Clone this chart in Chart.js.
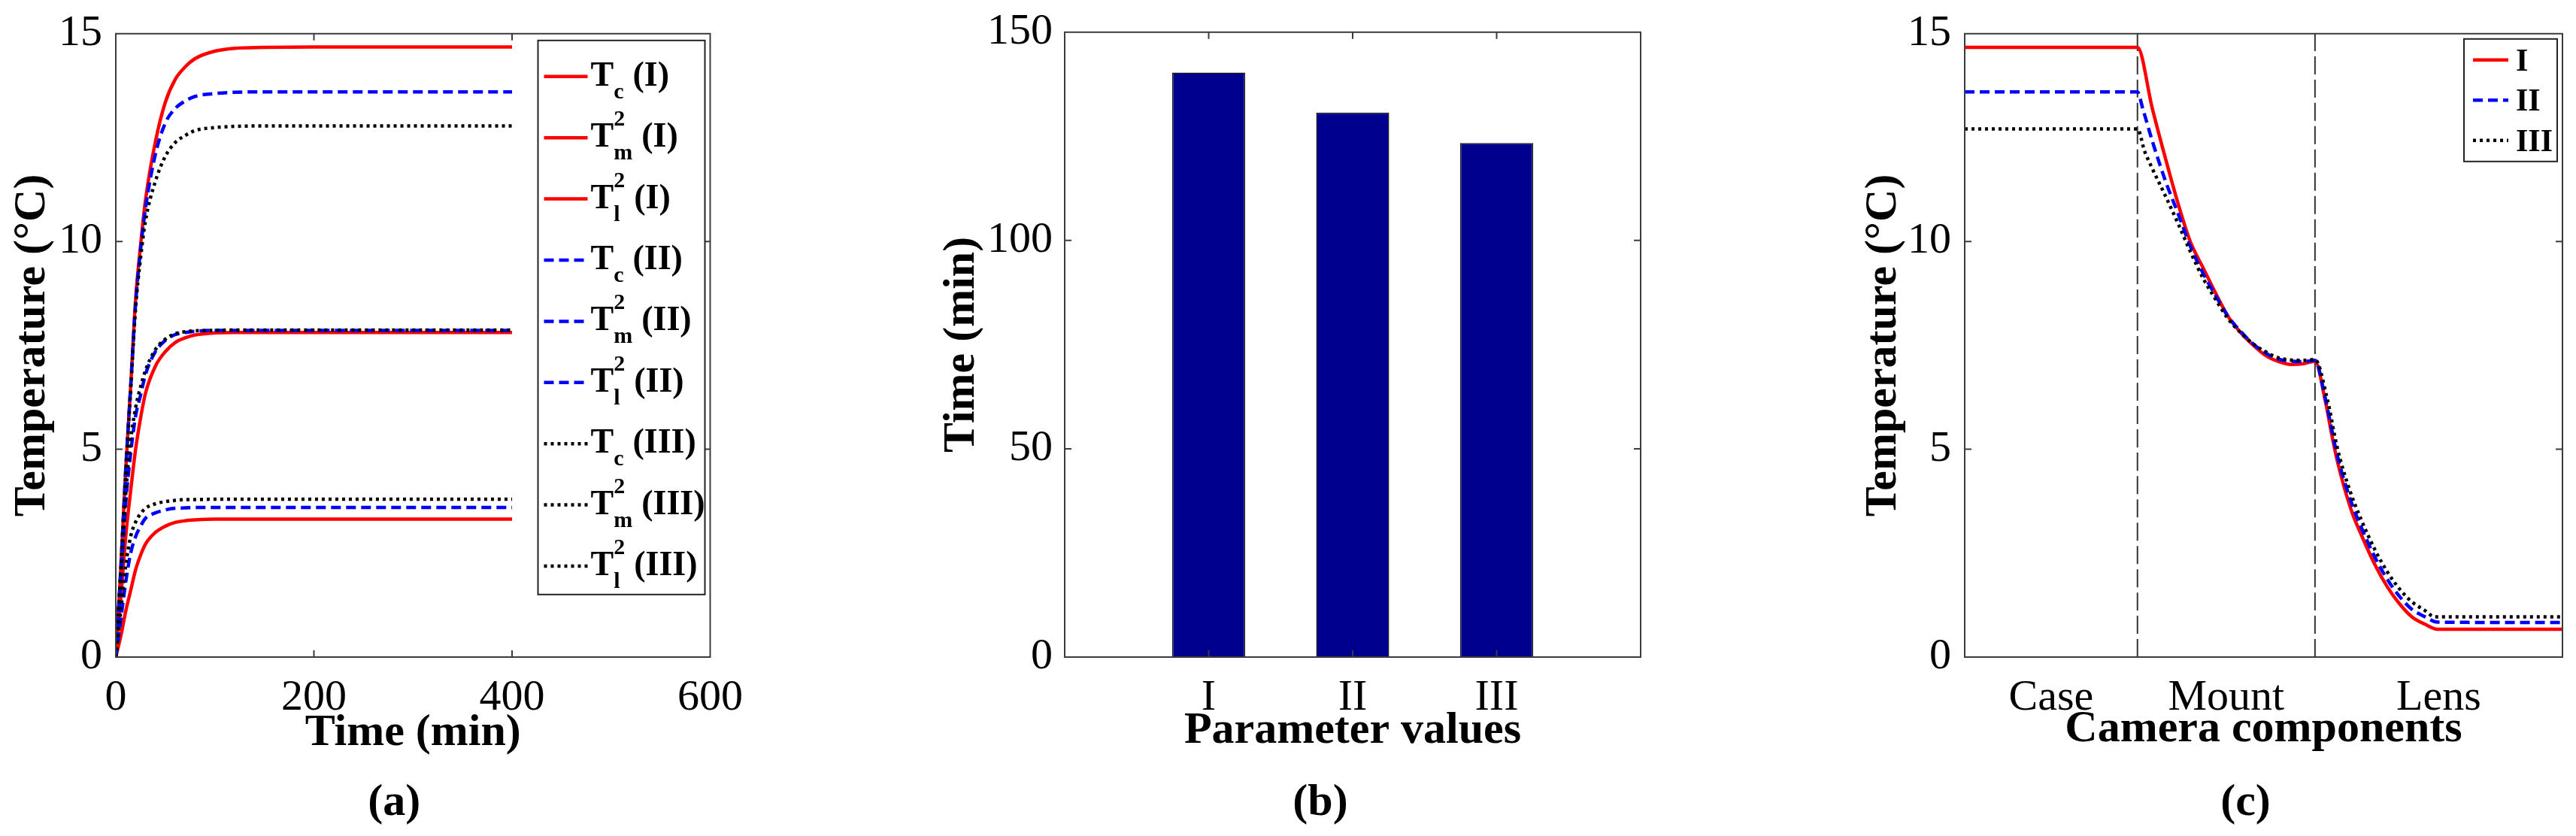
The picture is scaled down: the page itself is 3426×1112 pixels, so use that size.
<!DOCTYPE html>
<html>
<head>
<meta charset="utf-8">
<script src="https://cdn.jsdelivr.net/npm/chart.js@4.4.0/dist/chart.umd.min.js"></script>
<style>
  html, body { margin: 0; padding: 0; background: #fff; }
  body { width: 3426px; height: 1112px; position: relative; overflow: hidden; }
  canvas { position: absolute; top: 0; }
</style>
</head>
<body>
<canvas id="chartA" width="1000" height="1112" style="left:0px"></canvas>
<canvas id="chartB" width="1100" height="1112" style="left:1150px"></canvas>
<canvas id="chartC" width="1026" height="1112" style="left:2400px"></canvas>
<script>
// ---- (a) temperature vs time ----
const timeMin = [0, 5, 10, 15, 20, 25, 30, 40, 50, 60, 70, 80, 100, 120, 150, 200, 300, 400];
const tcI   = [0, 2.1, 4.5, 6.5, 8.6, 9.9, 11.0, 12.4, 13.35, 13.9, 14.2, 14.4, 14.58, 14.65, 14.67, 14.68, 14.68, 14.68];
const tmI   = [0, 1.4, 2.9, 4.0, 5.0, 5.75, 6.35, 7.0, 7.35, 7.57, 7.68, 7.75, 7.8, 7.81, 7.81, 7.81, 7.81, 7.81];
const tlI   = [0, 0.5, 1.1, 1.6, 2.1, 2.45, 2.72, 3.0, 3.15, 3.24, 3.28, 3.3, 3.32, 3.32, 3.32, 3.32, 3.32, 3.32];
const tcII  = [0, 2.1, 4.5, 6.5, 8.5, 9.8, 10.8, 12.1, 12.85, 13.2, 13.38, 13.49, 13.56, 13.59, 13.6, 13.6, 13.6, 13.6];
const tmII  = [0, 1.8, 3.7, 4.9, 5.8, 6.3, 6.8, 7.35, 7.62, 7.76, 7.81, 7.84, 7.86, 7.86, 7.86, 7.86, 7.86, 7.86];
const tlII  = [0, 0.9, 1.8, 2.5, 2.9, 3.15, 3.34, 3.47, 3.54, 3.58, 3.59, 3.6, 3.6, 3.6, 3.6, 3.6, 3.6, 3.6];
const tcIII = [0, 2.1, 4.4, 6.4, 8.4, 9.6, 10.5, 11.45, 12.05, 12.38, 12.55, 12.67, 12.74, 12.77, 12.78, 12.78, 12.78, 12.78];
const tmIII = [0, 1.9, 3.9, 5.2, 6.0, 6.5, 6.9, 7.4, 7.65, 7.78, 7.83, 7.85, 7.86, 7.87, 7.87, 7.87, 7.87, 7.87];
const tlIII = [0, 1.1, 2.2, 2.9, 3.25, 3.45, 3.58, 3.69, 3.74, 3.77, 3.79, 3.79, 3.8, 3.8, 3.8, 3.8, 3.8, 3.8];
const tempSymbols = ['c', 'm', 'l'];
const tempSupers = ['', '2', '2'];

// ---- (b) time per parameter set ----
const paramSets = ['I', 'II', 'III'];
const settleTime = [140.3, 130.7, 123.4];

// ---- (c) temperature along camera components ----
const components = ['Case', 'Mount', 'Lens'];
const componentBounds = [0, 28.9, 58.6, 100];
const posI   = [0, 28.9, 31.4, 33.6, 35.7, 37.7, 39.9, 42.0, 44.0, 46.2, 48.3, 50.3, 52.5, 54.6, 56.7, 58.6,
                60.3, 61.5, 62.3, 63.5, 64.8, 66.5, 68.6, 70.7, 72.8, 74.8, 77.0, 79.1, 100];
const tempI  = [14.67, 14.67, 13.19, 11.99, 10.91, 10.01, 9.36, 8.75, 8.21, 7.8, 7.5, 7.26, 7.11, 7.04, 7.06, 7.12,
                6.18, 5.28, 4.74, 4.08, 3.48, 2.89, 2.23, 1.69, 1.27, 0.97, 0.79, 0.67, 0.67];
const posII  = [0, 28.9, 29.8, 31.4, 33.6, 35.7, 37.7, 39.9, 42.0, 44.0, 46.2, 48.3, 50.3, 52.5, 56.7, 58.6,
                60.3, 62.3, 64.4, 66.5, 68.6, 70.7, 72.8, 74.8, 77.0, 79.1, 100];
const tempII = [13.6, 13.6, 13.19, 12.41, 11.45, 10.67, 9.9, 9.23, 8.69, 8.21, 7.83, 7.53, 7.32, 7.17, 7.11, 7.14,
                6.24, 4.87, 3.84, 3.07, 2.41, 1.87, 1.45, 1.15, 0.97, 0.84, 0.83];
const posIII  = [0, 28.9, 30.1, 31.4, 33.6, 35.7, 37.7, 39.9, 42.0, 44.0, 46.2, 48.3, 50.3, 52.5, 56.7, 58.6,
                 60.7, 62.3, 64.4, 66.5, 68.6, 70.7, 72.8, 74.8, 77.0, 78.6, 100];
const tempIII = [12.71, 12.71, 12.17, 11.75, 11.09, 10.43, 9.77, 9.11, 8.6, 8.15, 7.8, 7.53, 7.35, 7.2, 7.14, 7.16,
                 6.18, 5.05, 4.02, 3.25, 2.59, 2.05, 1.63, 1.33, 1.12, 0.97, 0.97];

const SERIF = '"Liberation Serif", "Times New Roman", serif';
Chart.defaults.font.family = SERIF;
Chart.defaults.color = '#000';

// line look per parameter set (I, II, III)
const looks = [
  { color: '#ff0000', dash: [], order: 2 },
  { color: '#0000ff', dash: [13, 7], order: 1 },
  { color: '#000000', dash: [4, 5], order: 0 }
];

function font(size, bold) {
  return { family: SERIF, size: size, weight: bold ? 'bold' : 'normal', lineHeight: 1.2 };
}

function lineSet(label, xs, ys, look) {
  return {
    label: label,
    data: xs.map((x, i) => ({ x: x, y: ys[i] })),
    borderColor: look.color,
    borderWidth: 4.5,
    borderDash: look.dash,
    fill: false,
    order: look.order
  };
}

// box around the plot with MATLAB-style inward ticks
const frame = {
  id: 'frame',
  afterDatasetsDraw(chart, args, opts) {
    const { ctx, chartArea: a, scales } = chart;
    ctx.save();
    ctx.strokeStyle = '#3c3c3c';
    ctx.lineWidth = 2;
    ctx.setLineDash([]);
    ctx.strokeRect(a.left, a.top, a.right - a.left, a.bottom - a.top);
    const len = 9;
    ctx.beginPath();
    if (opts.xTicks) {
      scales.x.ticks.forEach(t => {
        const px = scales.x.getPixelForValue(t.value);
        if (px <= a.left + 2 || px >= a.right - 2) return;
        ctx.moveTo(px, a.bottom); ctx.lineTo(px, a.bottom - len);
        ctx.moveTo(px, a.top); ctx.lineTo(px, a.top + len);
      });
    }
    if (opts.yTicks) {
      scales.y.ticks.forEach(t => {
        const py = scales.y.getPixelForValue(t.value);
        if (py <= a.top + 2 || py >= a.bottom - 2) return;
        ctx.moveTo(a.left, py); ctx.lineTo(a.left + len, py);
        ctx.moveTo(a.right, py); ctx.lineTo(a.right - len, py);
      });
    }
    ctx.stroke();
    ctx.restore();
  }
};

// legend with sub/superscripts, drawn inside the plot
const legendBox = {
  id: 'legendBox',
  afterDraw(chart, args, o) {
    if (!o.items) return;
    const { ctx, chartArea: a } = chart;
    const x0 = a.right - o.right - o.width;
    const y0 = a.top + o.top;
    ctx.save();
    ctx.fillStyle = '#fff';
    ctx.fillRect(x0, y0, o.width, o.height);
    ctx.strokeStyle = '#222';
    ctx.lineWidth = 2;
    ctx.strokeRect(x0, y0, o.width, o.height);
    o.items.forEach((item, i) => {
      const ds = chart.data.datasets[item.ds];
      const y = y0 + o.first + i * o.step;
      ctx.strokeStyle = ds.borderColor;
      ctx.lineWidth = ds.borderWidth;
      ctx.setLineDash(ds.borderDash || []);
      ctx.beginPath();
      ctx.moveTo(x0 + o.pad, y);
      ctx.lineTo(x0 + o.pad + o.sample, y);
      ctx.stroke();
      ctx.setLineDash([]);
      ctx.fillStyle = '#000';
      ctx.textBaseline = 'alphabetic';
      ctx.textAlign = 'left';
      const base = y + o.baseShift;
      let cx = x0 + o.textX;
      ctx.font = 'bold ' + o.size + 'px ' + SERIF;
      ctx.fillText(item.base, cx, base);
      cx += ctx.measureText(item.base).width;
      if (item.sub || item.sup) {
        ctx.font = 'bold ' + o.small + 'px ' + SERIF;
        let w = 0;
        if (item.sup) { ctx.fillText(item.sup, cx, base - o.supShift); w = ctx.measureText(item.sup).width; }
        if (item.sub) { ctx.fillText(item.sub, cx, base + o.subShift); w = Math.max(w, ctx.measureText(item.sub).width); }
        cx += w + o.gap;
        ctx.font = 'bold ' + o.size + 'px ' + SERIF;
      }
      if (item.tail) ctx.fillText(item.tail, cx, base);
    });
    ctx.restore();
  }
};

const panelLabel = {
  id: 'panelLabel',
  afterDraw(chart, args, o) {
    const { ctx, chartArea: a } = chart;
    ctx.save();
    ctx.font = 'bold 60px ' + SERIF;
    ctx.fillStyle = '#000';
    ctx.textAlign = 'center';
    ctx.textBaseline = 'middle';
    ctx.fillText(o.text, (a.left + a.right) / 2 + o.dx, o.y);
    ctx.restore();
  }
};

const common = {
  responsive: false,
  animation: false,
  devicePixelRatio: 1,
  events: []
};

// ---------- chart (a) ----------
const seriesA = [tcI, tmI, tlI, tcII, tmII, tlII, tcIII, tmIII, tlIII];
const dsA = seriesA.map((ys, i) => {
  const p = Math.floor(i / 3), k = i % 3;
  return lineSet('T' + tempSymbols[k] + tempSupers[k] + ' (' + paramSets[p] + ')', timeMin, ys, looks[p]);
});
const legendA = [];
paramSets.forEach((p, j) => tempSymbols.forEach((s, k) => {
  legendA.push({ ds: j * 3 + k, base: 'T', sub: s, sup: tempSupers[k], tail: '(' + p + ')' });
}));

new Chart(document.getElementById('chartA'), {
  type: 'line',
  data: { datasets: dsA },
  options: Object.assign({}, common, {
    layout: { padding: { left: 0, top: 39, right: 50, bottom: 0 } },
    elements: { point: { radius: 0 }, line: { cubicInterpolationMode: 'monotone' } },
    plugins: {
      legend: { display: false },
      tooltip: { enabled: false },
      frame: { xTicks: true, yTicks: true },
      legendBox: {
        items: legendA, right: 7, top: 9, width: 222, height: 737,
        first: 48, step: 81.4, pad: 8, sample: 58, textX: 70,
        size: 46, small: 30, baseShift: 12, subShift: 17, supShift: 28, gap: 12
      },
      panelLabel: { text: '(a)', dx: -25, y: 1068 }
    },
    scales: {
      x: {
        type: 'linear', min: 0, max: 600,
        ticks: { stepSize: 200, font: font(58), padding: 12, maxRotation: 0 },
        grid: { display: false }, border: { display: false },
        title: { display: true, text: 'Time (min)', font: font(60, true), padding: { top: 0, bottom: 101 } },
        afterFit: s => { s.height = 238; }
      },
      y: {
        min: 0, max: 15,
        ticks: { stepSize: 5, font: font(58), padding: 10 },
        grid: { display: false }, border: { display: false },
        title: { display: true, text: 'Temperature (°C)', font: font(60, true), padding: { top: 7, bottom: 0 } },
        afterFit: s => { s.width = 154; }
      }
    }
  }),
  plugins: [frame, legendBox, panelLabel]
});

// ---------- chart (b) ----------
new Chart(document.getElementById('chartB'), {
  type: 'bar',
  data: {
    datasets: [{
      data: paramSets.map((p, i) => ({ x: i + 1, y: settleTime[i] })),
      backgroundColor: '#00008f',
      borderColor: '#1a1a1a',
      borderWidth: 1.5,
      borderSkipped: 'bottom',
      categoryPercentage: 1,
      barPercentage: 0.507
    }]
  },
  options: Object.assign({}, common, {
    layout: { padding: { left: 0, top: 38, right: 68, bottom: 0 } },
    plugins: {
      legend: { display: false },
      tooltip: { enabled: false },
      frame: { xTicks: true, yTicks: true },
      panelLabel: { text: '(b)', dx: -43, y: 1068 }
    },
    scales: {
      x: {
        type: 'linear', min: 0, max: paramSets.length + 1, offset: false,
        ticks: { stepSize: 1, font: font(58), padding: 12, maxRotation: 0,
          callback: v => paramSets[v - 1] || '' },
        grid: { display: false, offset: false }, border: { display: false },
        title: { display: true, text: 'Parameter values', font: font(60, true), padding: { top: 0, bottom: 104 } },
        afterFit: s => { s.height = 238; }
      },
      y: {
        min: 0, max: 150,
        ticks: { stepSize: 50, font: font(58), padding: 8 },
        grid: { display: false }, border: { display: false },
        title: { display: true, text: 'Time (min)', font: font(60, true), padding: { top: 93, bottom: 0 } },
        afterFit: s => { s.width = 266; }
      }
    }
  }),
  plugins: [frame, panelLabel]
});

// ---------- chart (c) ----------
const regionCenters = components.map((c, i) => (componentBounds[i] + componentBounds[i + 1]) / 2);
const dsC = [
  lineSet('I', posI, tempI, looks[0]),
  lineSet('II', posII, tempII, looks[1]),
  lineSet('III', posIII, tempIII, looks[2])
];
componentBounds.slice(1, -1).forEach(b => {
  dsC.push({
    label: '',
    data: [{ x: b, y: 0 }, { x: b, y: 15 }],
    borderColor: '#333',
    borderWidth: 2,
    borderDash: [24, 7],
    fill: false,
    order: 3
  });
});

new Chart(document.getElementById('chartC'), {
  type: 'line',
  data: { datasets: dsC },
  options: Object.assign({}, common, {
    layout: { padding: { left: 0, top: 39, right: 18, bottom: 0 } },
    elements: { point: { radius: 0 }, line: { cubicInterpolationMode: 'monotone' } },
    plugins: {
      legend: { display: false },
      tooltip: { enabled: false },
      frame: { xTicks: false, yTicks: true },
      legendBox: {
        items: paramSets.map((p, i) => ({ ds: i, base: p })),
        right: 7, top: 7, width: 124, height: 163,
        first: 28, step: 53.5, pad: 12, sample: 47, textX: 69,
        size: 42, small: 28, baseShift: 14, subShift: 0, supShift: 0, gap: 0
      },
      panelLabel: { text: '(c)', dx: -24, y: 1068 }
    },
    scales: {
      x: {
        type: 'linear', min: 0, max: 100,
        afterBuildTicks: s => { s.ticks = regionCenters.map(v => ({ value: v })); },
        ticks: { font: font(58), padding: 12, maxRotation: 0, autoSkip: false,
          callback: (v, i) => components[i] },
        grid: { display: false }, border: { display: false },
        title: { display: true, text: 'Camera components', font: font(60, true), padding: { top: 0, bottom: 106 } },
        afterFit: s => { s.height = 238; }
      },
      y: {
        min: 0, max: 15,
        ticks: { stepSize: 5, font: font(58), padding: 10 },
        grid: { display: false }, border: { display: false },
        title: { display: true, text: 'Temperature (°C)', font: font(60, true), padding: { top: 69, bottom: 0 } },
        afterFit: s => { s.width = 213; }
      }
    }
  }),
  plugins: [frame, legendBox, panelLabel]
});
</script>
</body>
</html>
